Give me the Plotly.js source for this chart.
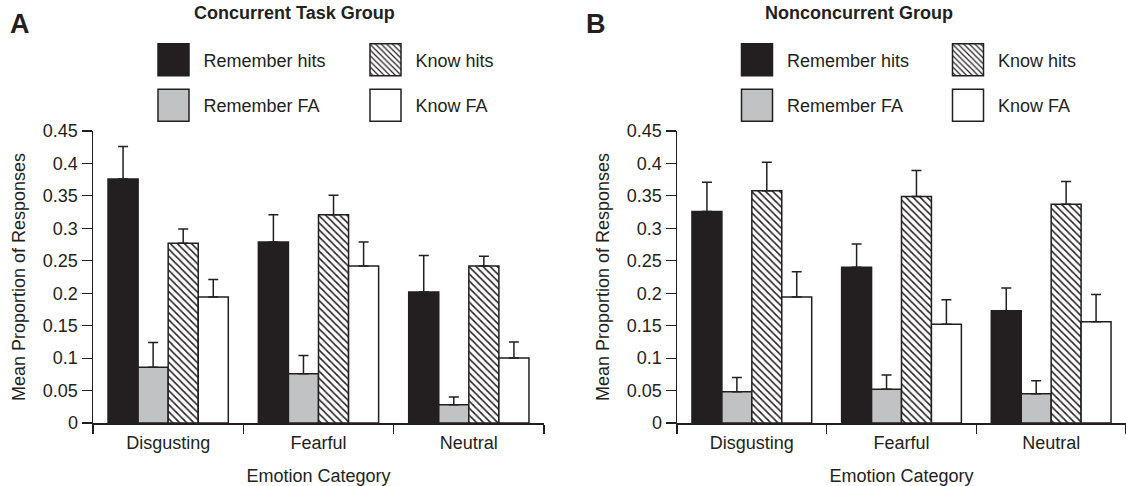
<!DOCTYPE html>
<html><head><meta charset="utf-8">
<script src="https://cdn.plot.ly/plotly-3.0.1.min.js"></script>
<style>html,body{margin:0;padding:0;background:#fff}</style>
</head><body><div id="chart" style="width:1126px;height:486px"></div>
<script>
// ---- data ----
const categories = ['Disgusting', 'Fearful', 'Neutral'];
const seriesNames = ['Remember hits', 'Remember FA', 'Know hits', 'Know FA'];
const yTickVals = [0, 0.05, 0.1, 0.15, 0.2, 0.25, 0.3, 0.35, 0.4, 0.45];
const yTickText = ['0', '0.05', '0.1', '0.15', '0.2', '0.25', '0.3', '0.35', '0.4', '0.45'];

// Concurrent Task Group (A)
const concRememberHits = [0.376, 0.279, 0.202];
const concRememberHitsErr = [0.050, 0.042, 0.056];
const concRememberFA = [0.086, 0.076, 0.028];
const concRememberFAErr = [0.038, 0.028, 0.012];
const concKnowHits = [0.277, 0.321, 0.242];
const concKnowHitsErr = [0.022, 0.030, 0.015];
const concKnowFA = [0.194, 0.242, 0.100];
const concKnowFAErr = [0.027, 0.037, 0.025];

// Nonconcurrent Group (B)
const nonRememberHits = [0.326, 0.240, 0.173];
const nonRememberHitsErr = [0.045, 0.036, 0.035];
const nonRememberFA = [0.048, 0.052, 0.045];
const nonRememberFAErr = [0.022, 0.022, 0.020];
const nonKnowHits = [0.358, 0.349, 0.337];
const nonKnowHitsErr = [0.044, 0.040, 0.035];
const nonKnowFA = [0.194, 0.152, 0.156];
const nonKnowFAErr = [0.039, 0.038, 0.042];

// ---- styling ----
const INK = '#231f20';
const FONT = 'Liberation Sans, Arial, Helvetica, sans-serif';
const W = 1126, H = 486, ML = 93, MR = 0, MT = 131, MB = 63;
const PW = W - ML - MR, PH = H - MT - MB;
const px = x => (x - ML) / PW;
const py = y => 1 - (y - MT) / PH;

const styles = [
  {color: INK},
  {color: '#c1c2c4'},
  {color: '#ffffff', pattern: {shape: '\\', size: 5, solidity: 0.3, fgcolor: INK, bgcolor: '#ffffff', fillmode: 'replace'}},
  {color: '#ffffff'}
];

const panels = [
  {xa: 'x', ya: 'y', vals: [concRememberHits, concRememberFA, concKnowHits, concKnowFA],
   errs: [concRememberHitsErr, concRememberFAErr, concKnowHitsErr, concKnowFAErr],
   legends: ['legend', 'legend3', 'legend2', 'legend4']},
  {xa: 'x2', ya: 'y2', vals: [nonRememberHits, nonRememberFA, nonKnowHits, nonKnowFA],
   errs: [nonRememberHitsErr, nonRememberFAErr, nonKnowHitsErr, nonKnowFAErr],
   legends: ['legend5', 'legend7', 'legend6', 'legend8']}
];

const traces = [];
panels.forEach(p => {
  seriesNames.forEach((name, i) => {
    const marker = {color: styles[i].color, line: {color: INK, width: 1.5}};
    if (styles[i].pattern) marker.pattern = styles[i].pattern;
    traces.push({
      type: 'bar', name: name, x: categories, y: p.vals[i],
      xaxis: p.xa, yaxis: p.ya, legend: p.legends[i], marker: marker,
      error_y: {type: 'data', symmetric: false, array: p.errs[i], arrayminus: p.vals[i].map(() => 0),
                color: INK, thickness: 1.5, width: 5},
      hoverinfo: 'skip'
    });
  });
});

const xAxisBase = {
  type: 'category', showline: true, linecolor: INK, linewidth: 1.5,
  ticks: 'outside', tickson: 'boundaries', ticklen: 9, tickwidth: 1.2, tickcolor: INK,
  ticklabelstandoff: 3,
  tickfont: {family: FONT, size: 18, color: INK}, showgrid: false, zeroline: false,
  title: {text: 'Emotion Category', font: {family: FONT, size: 18, color: INK}, standoff: 18},
  fixedrange: true
};
const yAxisBase = {
  range: [0, 0.45], tickmode: 'array', tickvals: yTickVals, ticktext: yTickText,
  showline: true, linecolor: INK, linewidth: 1.5, ticks: 'outside', ticklen: 10, tickwidth: 1.2,
  tickcolor: INK, tickfont: {family: FONT, size: 18, color: INK}, showgrid: false, zeroline: false,
  title: {text: 'Mean Proportion of Responses', font: {family: FONT, size: 18, color: INK}, standoff: 12},
  fixedrange: true
};

const legendBase = {
  orientation: 'v', xanchor: 'left', yanchor: 'middle', bgcolor: 'rgba(0,0,0,0)', borderwidth: 0,
  itemwidth: 50, font: {family: FONT, size: 18, color: INK}, itemclick: false, itemdoubleclick: false
};
const col = [173.5, 385.5, 757, 968];
const row = [60, 105.5];
function leg(cx, cy) { return Object.assign({}, legendBase, {x: px(cx - 30), y: py(cy)}); }

const layout = {
  width: W, height: H, paper_bgcolor: '#fff', plot_bgcolor: '#fff',
  margin: {l: ML, r: MR, t: MT, b: MB, autoexpand: false},
  barmode: 'group', bargap: 0.2, bargroupgap: 0, showlegend: true,
  xaxis: Object.assign({}, xAxisBase, {domain: [0, px(544)], anchor: 'y'}),
  yaxis: Object.assign({}, yAxisBase, {domain: [0, 1], anchor: 'x'}),
  xaxis2: Object.assign({}, xAxisBase, {domain: [px(677), 1], anchor: 'y2'}),
  yaxis2: Object.assign({}, yAxisBase, {domain: [0, 1], anchor: 'x2'}),
  legend: leg(col[0], row[0]), legend3: leg(col[0], row[1]),
  legend2: leg(col[1], row[0]), legend4: leg(col[1], row[1]),
  legend5: leg(col[2], row[0]), legend7: leg(col[2], row[1]),
  legend6: leg(col[3], row[0]), legend8: leg(col[3], row[1]),
  annotations: [
    {text: '<b>A</b>', xref: 'paper', yref: 'paper', x: px(8), y: py(24), xanchor: 'left', yanchor: 'middle',
     showarrow: false, font: {family: FONT, size: 27, color: INK}},
    {text: '<b>B</b>', xref: 'paper', yref: 'paper', x: px(584), y: py(24), xanchor: 'left', yanchor: 'middle',
     showarrow: false, font: {family: FONT, size: 27, color: INK}},
    {text: '<b>Concurrent Task Group</b>', xref: 'paper', yref: 'paper', x: px(294.5), y: py(13), xanchor: 'center', yanchor: 'middle',
     showarrow: false, font: {family: FONT, size: 18, color: INK}},
    {text: '<b>Nonconcurrent Group</b>', xref: 'paper', yref: 'paper', x: px(859), y: py(13), xanchor: 'center', yanchor: 'middle',
     showarrow: false, font: {family: FONT, size: 18, color: INK}}
  ]
};

Plotly.newPlot('chart', traces, layout, {staticPlot: true, displayModeBar: false}).then(gd => {
  gd.querySelectorAll('.legendpoints path').forEach(p => {
    p.setAttribute('d', 'M15.5,16H-15.5V-16H15.5Z');
  });
});
</script>
</body></html>
